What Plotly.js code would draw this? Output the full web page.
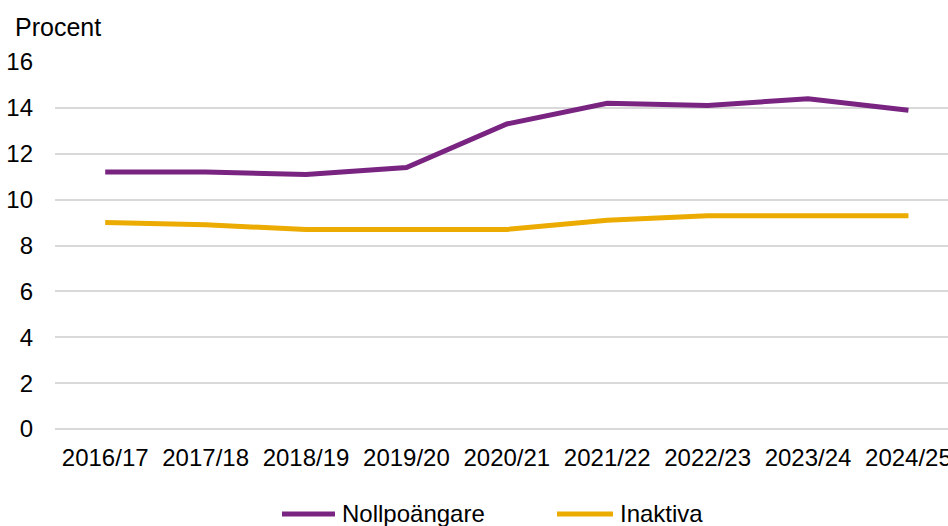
<!DOCTYPE html>
<html>
<head>
<meta charset="utf-8">
<script src="https://cdn.plot.ly/plotly-3.0.1.min.js"></script>
<style>html,body{margin:0;padding:0;background:#fff;}#chart{width:948px;height:526px;}</style>
</head>
<body>
<div id="chart"></div>
<script>
const categories = ["2016/17","2017/18","2018/19","2019/20","2020/21","2021/22","2022/23","2023/24","2024/25"];
const nollpoangare = [11.2, 11.2, 11.1, 11.4, 13.3, 14.2, 14.1, 14.4, 13.9];
const inaktiva = [9.0, 8.9, 8.7, 8.7, 8.7, 9.1, 9.3, 9.3, 9.3];
const yTicks = [0, 2, 4, 6, 8, 10, 12, 14, 16];
const seriesNames = ["Nollpoängare", "Inaktiva"];
const colors = ["#7A2482", "#EBAB00"];

const FONT = "Liberation Sans, Arial, sans-serif";
const W = 948, H = 526, L = 55, R = 0, T = 62, B = 97;
const pw = W - L - R, ph = H - T - B;
const px2x = p => (p - L) / pw;
const px2y = p => (H - B - p) / ph;

const traces = [
  {x: categories, y: nollpoangare, name: seriesNames[0], type: "scatter", mode: "lines",
   line: {color: colors[0], width: 5}},
  {x: categories, y: inaktiva, name: seriesNames[1], type: "scatter", mode: "lines",
   line: {color: colors[1], width: 5}}
];

// manual legend (pixel placement)
const legendItems = [{x0: 282, x1: 335, tx: 340}, {x0: 557, x1: 613, tx: 618}];
const legY = 514;
const shapes = legendItems.map((it, i) => ({
  type: "line", xref: "paper", yref: "paper",
  x0: px2x(it.x0), x1: px2x(it.x1), y0: px2y(legY), y1: px2y(legY),
  line: {color: colors[i], width: 5}
}));
const annotations = legendItems.map((it, i) => ({
  text: seriesNames[i], xref: "paper", yref: "paper", x: px2x(it.tx), y: px2y(legY - 1),
  xanchor: "left", yanchor: "middle", showarrow: false, font: {family: FONT, size: 24, color: "#000"}
}));

const layout = {
  width: W, height: H,
  margin: {l: L, r: R, t: T, b: B},
  paper_bgcolor: "#fff", plot_bgcolor: "#fff",
  font: {family: FONT, size: 24, color: "#000"},
  title: {text: "Procent", xref: "container", yref: "container", x: 15/948, xanchor: "left",
          y: 1 - 27/526, yanchor: "middle", font: {family: FONT, size: 25, color: "#000"}},
  xaxis: {type: "category", range: [-0.5, 8.394], showgrid: false, zeroline: false,
          showline: false, ticks: "", ticklabelstandoff: 12, tickfont: {size: 24}},
  yaxis: {range: [0, 16], tickvals: yTicks, ticktext: yTicks.map(String), showgrid: true,
          gridcolor: "#D9D9D9", gridwidth: 2, zeroline: true, zerolinecolor: "#D9D9D9", zerolinewidth: 2,
          showline: false, ticks: "", ticklabelstandoff: 21, tickfont: {size: 24}},
  showlegend: false,
  shapes: shapes,
  annotations: annotations
};
Plotly.newPlot("chart", traces, layout, {displayModeBar: false, staticPlot: true});
</script>
</body>
</html>
